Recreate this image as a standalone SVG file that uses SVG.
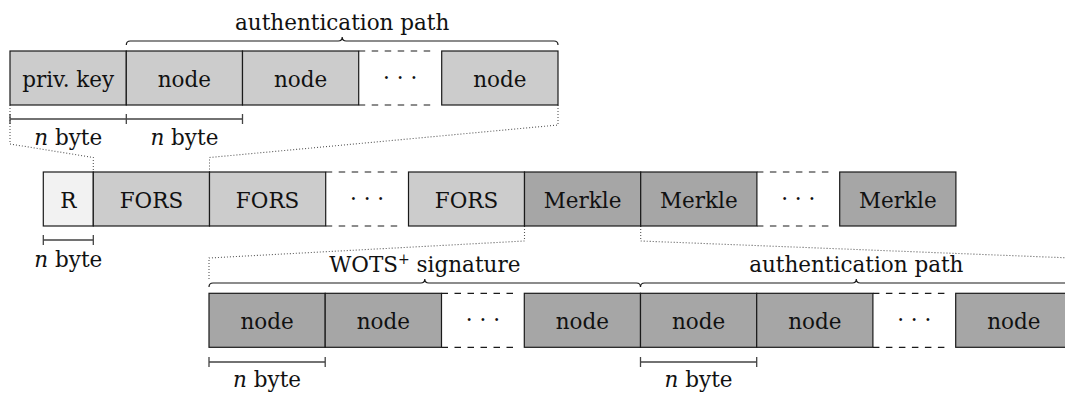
<svg xmlns="http://www.w3.org/2000/svg" width="1065" height="397" viewBox="0 0 1065 397">
  <style>
    text { font-family: "DejaVu Serif", "Liberation Serif", serif; font-size: 21.5px; fill: #111; text-anchor: middle; }
    .it { font-style: italic; }
    .box { stroke: #1a1a1a; stroke-width: 1.2; }
    .light { fill: #f2f2f2; }
    .mid { fill: #cccccc; }
    .dark { fill: #a6a6a6; }
    .gap { fill: none; stroke: #1a1a1a; stroke-width: 1.2; stroke-dasharray: 6.5 6.5; }
    .dots { letter-spacing: 0; }
    .brace { fill: none; stroke: #1a1a1a; stroke-width: 1.2; }
    .measure { fill: none; stroke: #444; stroke-width: 1.3; }
    .dotted { fill: none; stroke: #555; stroke-width: 1.1; stroke-dasharray: 1 2; }
  </style>

  <!-- connectors: zoom-out guides, braces and size markers -->
  <g id="connectors">
    <!-- leaf FORS signature expanded above -->
    <path class="dotted" d="M10,105 L10,144 L93.3,157.5 L93.3,172"/>
    <path class="dotted" d="M558,105 L558,125 L209.5,157.5 L209.5,172"/>
    <!-- Merkle signature expanded below -->
    <path class="dotted" d="M524.5,226 L524.5,241 L209,258 L209,280"/>
    <path class="dotted" d="M640.7,226 L640.7,241 L1072,258"/>

    <!-- braces -->
    <path class="brace" d="M126.3,45 Q126.3,41 130.3,41 L338.2,41 Q342.2,41 342.2,37 Q342.2,41 346.2,41 L554,41 Q558,41 558,45"/>
    <path class="brace" d="M209,287 Q209,283 213,283 L420.8,283 Q424.8,283 424.8,279 Q424.8,283 428.8,283 L636.5,283 Q640.5,283 640.5,287"/>
    <path class="brace" d="M640.5,287 Q640.5,283 644.5,283 L852.3,283 Q856.3,283 856.3,279 Q856.3,283 860.3,283 L1068,283 Q1072,283 1072,287"/>

    <!-- n-byte size markers -->
    <path class="measure" d="M10,119 H126.3 M10,114 V124 M126.3,114 V124"/>
    <path class="measure" d="M126.3,119 H242.5 M242.5,114 V124"/>
    <path class="measure" d="M43.3,240 H93.3 M43.3,235 V245 M93.3,235 V245"/>
    <path class="measure" d="M209,362 H325.2 M209,357 V367 M325.2,357 V367"/>
    <path class="measure" d="M640.5,362 H756.7 M640.5,357 V367 M756.7,357 V367"/>
  </g>

  <!-- FORS leaf signature: secret key and authentication path -->
  <g id="fors-leaf">
    <g id="priv-key"><rect class="box mid" x="10" y="51" width="116.3" height="54"/><text x="68.2" y="86.5">priv. key</text></g>
    <g id="fors-node-1"><rect class="box mid" x="126.3" y="51" width="116.2" height="54"/><text x="184.4" y="86.5">node</text></g>
    <g id="fors-node-2"><rect class="box mid" x="242.5" y="51" width="116.2" height="54"/><text x="300.6" y="86.5">node</text></g>
    <g id="fors-node-gap"><path class="gap" d="M358.7,51 H436 M358.7,105 H436"/><text class="dots" x="400.2" y="84.5">· · ·</text></g>
    <g id="fors-node-h"><rect class="box mid" x="441.7" y="51" width="116.3" height="54"/><text x="499.8" y="86.5">node</text></g>
  </g>

  <!-- full signature -->
  <g id="signature">
    <g id="sig-r"><rect class="box light" x="43.3" y="172" width="50" height="54"/><text x="68.3" y="207.5">R</text></g>
    <g id="sig-fors-1"><rect class="box mid" x="93.3" y="172" width="116.2" height="54"/><text x="151.4" y="207.5">FORS</text></g>
    <g id="sig-fors-2"><rect class="box mid" x="209.5" y="172" width="116.2" height="54"/><text x="267.6" y="207.5">FORS</text></g>
    <g id="sig-fors-gap"><path class="gap" d="M325.7,172 H403 M325.7,226 H403"/><text class="dots" x="367.1" y="205.5">· · ·</text></g>
    <g id="sig-fors-k"><rect class="box mid" x="408.5" y="172" width="116" height="54"/><text x="466.5" y="207.5">FORS</text></g>
    <g id="sig-merkle-1"><rect class="box dark" x="524.5" y="172" width="116.2" height="54"/><text x="582.6" y="207.5">Merkle</text></g>
    <g id="sig-merkle-2"><rect class="box dark" x="640.7" y="172" width="116.2" height="54"/><text x="698.8" y="207.5">Merkle</text></g>
    <g id="sig-merkle-gap"><path class="gap" d="M756.9,172 H834 M756.9,226 H834"/><text class="dots" x="798.3" y="205.5">· · ·</text></g>
    <g id="sig-merkle-d"><rect class="box dark" x="839.7" y="172" width="116.2" height="54"/><text x="897.8" y="207.5">Merkle</text></g>
  </g>

  <!-- Merkle tree signature: WOTS+ signature and authentication path -->
  <g id="merkle-sig">
    <g id="wots-1"><rect class="box dark" x="209" y="293.3" width="116.2" height="54"/><text x="267.1" y="328.8">node</text></g>
    <g id="wots-2"><rect class="box dark" x="325.2" y="293.3" width="116.3" height="54"/><text x="383.4" y="328.8">node</text></g>
    <g id="wots-gap"><path class="gap" d="M441.5,293.3 H519 M441.5,347.3 H519"/><text class="dots" x="482.9" y="326.8">· · ·</text></g>
    <g id="wots-len"><rect class="box dark" x="524.3" y="293.3" width="116.2" height="54"/><text x="582.4" y="328.8">node</text></g>
    <g id="auth-1"><rect class="box dark" x="640.5" y="293.3" width="116.2" height="54"/><text x="698.6" y="328.8">node</text></g>
    <g id="auth-2"><rect class="box dark" x="756.7" y="293.3" width="116.2" height="54"/><text x="814.8" y="328.8">node</text></g>
    <g id="auth-gap"><path class="gap" d="M872.9,293.3 H950 M872.9,347.3 H950"/><text class="dots" x="914.3" y="326.8">· · ·</text></g>
    <g id="auth-h"><rect class="box dark" x="955.7" y="293.3" width="116.3" height="54"/><text x="1013.8" y="328.8">node</text></g>
  </g>

  <!-- labels -->
  <g id="labels">
    <text x="342.2" y="30">authentication path</text>
    <text x="424.8" y="272">WOTS<tspan font-size="14" dy="-8">+</tspan><tspan dy="8"> signature</tspan></text>
    <text x="856.3" y="272">authentication path</text>
    <text x="68.2" y="145"><tspan class="it">n</tspan> byte</text>
    <text x="184.4" y="145"><tspan class="it">n</tspan> byte</text>
    <text x="68.3" y="266.5"><tspan class="it">n</tspan> byte</text>
    <text x="267.1" y="387"><tspan class="it">n</tspan> byte</text>
    <text x="698.6" y="387"><tspan class="it">n</tspan> byte</text>
  </g>
</svg>
